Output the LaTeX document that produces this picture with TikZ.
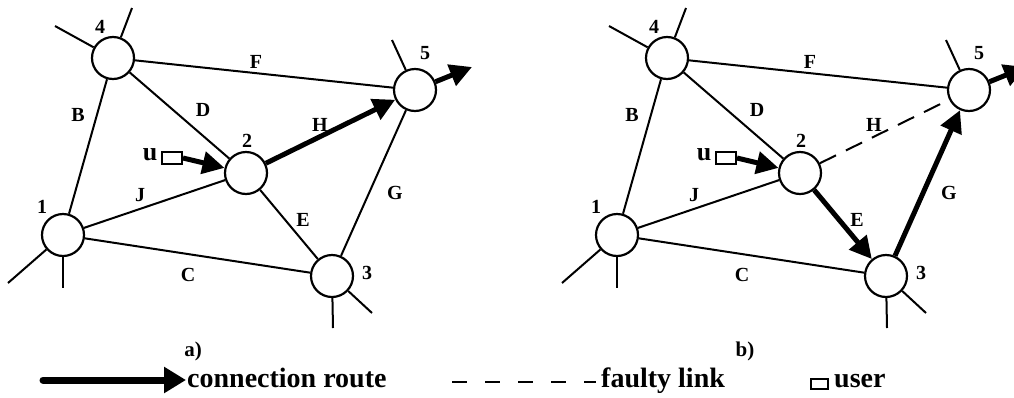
\documentclass[tikz,border=0pt]{standalone}
\usepackage{fontspec}
\setmainfont{Liberation Serif}
\usetikzlibrary{arrows.meta}
\tikzset{
  nd/.style={circle,draw,line width=2.2pt,minimum size=42pt,inner sep=0pt,fill=white},
  edge/.style={line width=2pt},
  lbl/.style={font=\fontsize{20}{20}\selectfont\bfseries,inner sep=0pt},
  ulbl/.style={font=\fontsize{26}{26}\selectfont\bfseries,inner sep=0pt},
  plbl/.style={font=\fontsize{21}{21}\selectfont\bfseries,inner sep=0pt},
  lgd/.style={font=\fontsize{28}{28}\selectfont\bfseries,inner sep=0pt,anchor=base west},
  route/.style={line width=5pt,-{Triangle[length=22pt,width=22pt]}},
  faulty/.style={line width=2pt,dash pattern=on 18pt off 11pt},
  ubox/.style={draw,line width=2pt,minimum width=20pt,minimum height=12pt,inner sep=0pt,fill=white},
}
\newcommand\netpanel[2]{%
  \begin{scope}[xshift=#2]
    \node[nd] (#1n1) at (63,235) {};
    \node[nd] (#1n2) at (246,173) {};
    \node[nd] (#1n3) at (332,276) {};
    \node[nd] (#1n4) at (113,58) {};
    \node[nd] (#1n5) at (415,90) {};
    \coordinate (#1s4a) at (55,26);
    \coordinate (#1s4b) at (132,8);
    \coordinate (#1s5) at (392,40);
    \coordinate (#1o5) at (472,67);
    \coordinate (#1s1a) at (8,283);
    \coordinate (#1s1b) at (63,288);
    \coordinate (#1s3a) at (333,328);
    \coordinate (#1s3b) at (372,313);
    \draw[edge] (#1n4) -- (#1s4a);
    \draw[edge] (#1n4) -- (#1s4b);
    \draw[edge] (#1n5) -- (#1s5);
    \draw[edge] (#1n1) -- (#1s1a);
    \draw[edge] (#1n1) -- (#1s1b);
    \draw[edge] (#1n3) -- (#1s3a);
    \draw[edge] (#1n3) -- (#1s3b);
    \draw[edge] (#1n1) -- (#1n4);
    \draw[edge] (#1n4) -- (#1n2);
    \draw[edge] (#1n4) -- (#1n5);
    \draw[edge] (#1n1) -- (#1n2);
    \draw[edge] (#1n1) -- (#1n3);
    \draw[route] (#1n5) -- (#1o5);
    \node[ubox] (#1ub) at (172,158) {};
    \draw[route] (#1ub.east) -- (#1n2);
    \node[lbl] (#1l4) at (100,27) {4};
    \node[lbl] (#1l5) at (425,53) {5};
    \node[lbl] (#1l2) at (247,141) {2};
    \node[lbl] (#1l1) at (42,207) {1};
    \node[lbl] (#1l3) at (367,273) {3};
    \node[lbl] (#1lF) at (256,62) {F};
    \node[lbl] (#1lD) at (203,110) {D};
    \node[lbl] (#1lB) at (78,115) {B};
    \node[lbl] (#1lH) at (320,125) {H};
    \node[lbl] (#1lJ) at (140,195) {J};
    \node[lbl] (#1lG) at (395,193) {G};
    \node[lbl] (#1lE) at (303,220) {E};
    \node[lbl] (#1lC) at (188,275) {C};
    \node[ulbl] (#1lu) at (150,155) {u};
  \end{scope}%
}
\begin{document}
\begin{tikzpicture}[x=1pt,y=-1pt]
  \useasboundingbox (0,0) rectangle (1014,397);
  \clip (0,0) rectangle (1014,397);
  \fill[white] (0,0) rectangle (1014,397);
  % panel a
  \netpanel{a}{0pt}
  \draw[edge] (an2) -- (an3);
  \draw[edge] (an3) -- (an5);
  \draw[route] (an2) -- (an5);
  \node[plbl] (pa) at (193,351) {a)};
  % panel b
  \netpanel{b}{554pt}
  \draw[faulty] (bn2) -- (bn5);
  \draw[route] (bn2) -- (bn3);
  \draw[route] (bn3) -- (bn5);
  \node[plbl] (pb) at (745,351) {b)};
  % legend
  \coordinate (lgA) at (43,380);
  \coordinate (lgB) at (186,380);
  \draw[line width=7pt,line cap=round,-{Triangle[length=22pt,width=25pt]}] (lgA) -- (lgB);
  \node[lgd] (lgt1) at (187,387) {connection route};
  \coordinate (ldA) at (452,382);
  \coordinate (ldB) at (596,382);
  \draw[line width=2pt,dash pattern=on 15pt off 18pt] (ldA) -- (ldB);
  \node[lgd] (lgt2) at (601,387) {faulty link};
  \node[draw,line width=2pt,minimum width=17pt,minimum height=10pt,inner sep=0pt] (lgbox) at (819,384) {};
  \node[lgd] (lgt3) at (834,387) {user};
\end{tikzpicture}
\end{document}
